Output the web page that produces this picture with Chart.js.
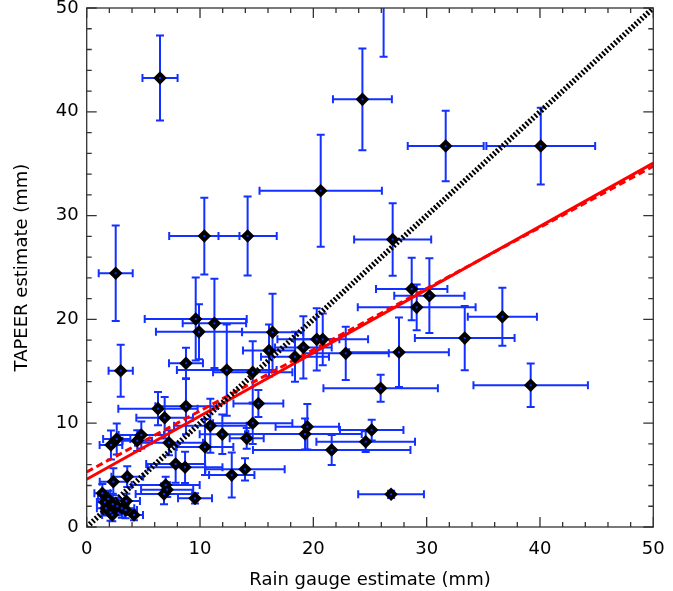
<!DOCTYPE html>
<html><head><meta charset="utf-8">
<script src="https://cdn.jsdelivr.net/npm/chart.js@4.4.0/dist/chart.umd.min.js"></script>
<style>html,body{margin:0;padding:0;background:#fff;}#wrap{width:673px;height:591px;}</style>
</head><body><div id="wrap"><canvas id="c" width="673" height="591"></canvas></div>
<script>
// Rain gauge estimate (mm) vs TAPEER estimate (mm), with uncertainties
const gaugeX    = [6.47,24.33,20.65,10.38,14.2,2.56,27.0,31.68,40.07,28.68,30.24,29.12,36.68,33.36,27.56,25.94,39.18,25.15,24.62,21.62,26.86,26.2,3.0,9.62,11.27,9.91,16.4,16.09,8.76,12.36,14.65,18.38,19.12,20.3,20.83,22.86,6.29,6.88,8.76,15.15,10.91,14.65,11.97,14.12,10.44,19.47,19.27,12.8,13.97,2.65,4.82,2.14,4.46,7.26,7.85,8.68,3.58,2.35,6.97,6.82,7.1,9.56,1.38,1.9,2.3,1.7,2.1,2.7,3.1,2.26,3.44,4.17,3.5,1.6];
const tapeerY   = [43.26,41.2,32.4,28.03,28.03,24.44,27.7,36.7,36.7,22.93,22.28,21.16,20.26,18.2,16.83,13.36,13.65,9.34,8.22,7.42,3.15,53.5,15.06,20.04,19.62,18.8,18.76,17.0,15.77,15.12,14.9,16.4,17.3,18.08,18.08,16.73,11.4,10.53,11.63,11.9,9.76,9.99,8.93,8.54,7.7,9.66,8.96,5.0,5.56,8.48,8.86,7.9,8.31,8.12,6.07,5.75,4.85,4.36,4.05,3.18,3.6,2.76,3.25,2.7,2.2,1.8,1.4,2.0,1.8,1.16,1.64,1.16,2.5,2.4];
const gaugeErr  = [1.55,2.6,5.4,3.1,2.57,1.5,3.4,3.35,4.8,3.15,3.1,5.2,3.05,4.4,4.4,5.05,5.05,2.8,4.35,6.95,2.9,2.0,1.07,4.5,2.8,3.8,2.7,2.3,1.5,4.4,3.5,3.0,2.5,2.0,4.0,3.8,3.5,2.5,2.7,2.2,3.2,3.5,2.0,1.5,2.5,2.8,5.0,2.0,3.5,1.2,2.0,1.0,1.3,3.0,2.6,3.3,1.4,1.2,3.0,2.5,2.3,1.5,0.7,0.9,1.0,0.8,0.8,1.0,1.1,0.9,1.0,0.8,1.2,0.7];
const tapeerErr = [4.1,4.9,5.4,3.7,3.8,4.6,3.5,3.4,3.7,3.0,3.6,2.2,2.8,3.1,3.35,1.3,2.1,1.0,1.0,1.45,0.35,8.2,2.5,4.0,4.3,2.65,3.7,2.5,1.5,4.4,3.0,2.4,3.0,3.0,2.5,2.57,1.6,2.0,2.7,1.3,2.6,2.0,1.9,1.0,2.7,2.2,1.5,2.17,1.07,1.5,1.3,1.4,1.0,1.2,1.8,1.5,1.0,1.3,0.8,1.0,0.7,0.5,0.9,0.8,1.0,0.7,0.8,0.8,0.9,0.6,0.8,0.5,0.7,0.6];
const axisTickLabels = ['0','10','20','30','40','50'];
const lineEndsX  = [0, 50];
const identityY  = [0, 50];
const fitSolidY  = [4.6, 35.05];
const fitDashedY = [5.3, 34.75];

const pts = gaugeX.map((v,i)=>({x:v,y:tapeerY[i]}));
const mk = ys => lineEndsX.map((v,i)=>({x:v,y:ys[i]}));
const BLUE = 'rgb(18,48,255)';

const errorBars = {
  id:'errorBars',
  beforeDatasetsDraw(chart){
    const {ctx, chartArea:a, scales:{x,y}} = chart;
    ctx.save();
    ctx.beginPath(); ctx.rect(a.left,a.top,a.right-a.left,a.bottom-a.top); ctx.clip();
    ctx.strokeStyle = BLUE; ctx.lineWidth = 2; ctx.lineCap='butt';
    const cap = 4;
    for (let i=0;i<gaugeX.length;i++){
      const px = x.getPixelForValue(gaugeX[i]), py = y.getPixelForValue(tapeerY[i]);
      const x0 = x.getPixelForValue(gaugeX[i]-gaugeErr[i]), x1 = x.getPixelForValue(gaugeX[i]+gaugeErr[i]);
      const y0 = y.getPixelForValue(tapeerY[i]-tapeerErr[i]), y1 = y.getPixelForValue(tapeerY[i]+tapeerErr[i]);
      ctx.beginPath();
      ctx.moveTo(x0,py); ctx.lineTo(x1,py);
      ctx.moveTo(x0,py-cap); ctx.lineTo(x0,py+cap);
      ctx.moveTo(x1,py-cap); ctx.lineTo(x1,py+cap);
      ctx.moveTo(px,y0); ctx.lineTo(px,y1);
      ctx.moveTo(px-cap,y0); ctx.lineTo(px+cap,y0);
      ctx.moveTo(px-cap,y1); ctx.lineTo(px+cap,y1);
      ctx.stroke();
    }
    ctx.restore();
  },
  afterDatasetsDraw(chart){
    const {ctx, chartArea:a, scales:{x,y}} = chart;
    ctx.save();
    ctx.beginPath(); ctx.rect(a.left,a.top,a.right-a.left,a.bottom-a.top); ctx.clip();
    ctx.fillStyle = BLUE;
    for (let i=0;i<gaugeX.length;i++){
      const px = x.getPixelForValue(gaugeX[i]), py = y.getPixelForValue(tapeerY[i]);
      ctx.fillRect(px-1,py-1,2,2);
    }
    ctx.restore();
  }
};

const frame = {
  id:'frame',
  afterDraw(chart){
    const {ctx, chartArea:a, scales:{x,y}} = chart;
    ctx.save();
    ctx.strokeStyle = '#333'; ctx.lineWidth = 1.3;
    ctx.strokeRect(a.left,a.top,a.right-a.left,a.bottom-a.top);
    ctx.beginPath();
    for (let v=0; v<=50; v+=2){
      const L = (v%10===0)?10:5;
      const px = x.getPixelForValue(v), py = y.getPixelForValue(v);
      ctx.moveTo(px,a.bottom); ctx.lineTo(px,a.bottom-L);
      ctx.moveTo(px,a.top); ctx.lineTo(px,a.top+L);
      ctx.moveTo(a.left,py); ctx.lineTo(a.left+L,py);
      ctx.moveTo(a.right,py); ctx.lineTo(a.right-L,py);
    }
    ctx.stroke();
    ctx.restore();
  }
};

Chart.defaults.font.family = "'DejaVu Sans', sans-serif";
Chart.defaults.color = '#000';

new Chart(document.getElementById('c'), {
  type:'scatter',
  data:{datasets:[
    {label:'data', data:pts, pointStyle:'rectRot', pointRadius:6.8, backgroundColor:'#000', borderColor:'#000', borderWidth:0, order:0},
    {type:'line', label:'1:1', data:mk(identityY), borderColor:'#000', borderWidth:5.5, borderDash:[2,2], pointRadius:0, order:1},
    {type:'line', label:'fit dashed', data:mk(fitDashedY), borderColor:'#ff0000', borderWidth:3, borderDash:[7,4], pointRadius:0, order:3},
    {type:'line', label:'fit', data:mk(fitSolidY), borderColor:'#ff0000', borderWidth:3, pointRadius:0, order:2}
  ]},
  options:{
    responsive:false, animation:false, devicePixelRatio:1,
    layout:{padding:{left:0,top:8,right:19.7,bottom:0}},
    plugins:{legend:{display:false}, tooltip:{enabled:false}},
    scales:{
      x:{type:'linear', min:0, max:50,
        grid:{display:false, drawTicks:false}, border:{display:false},
        ticks:{stepSize:10, padding:12, font:{size:18}, maxRotation:0, callback:(v)=>axisTickLabels[v/10]},
        title:{display:true, text:'Rain gauge estimate (mm)', font:{size:18}, padding:{top:4,bottom:0}},
        afterFit(s){ s.height = 64; s.paddingLeft = 0; s.paddingRight = 0; }
      },
      y:{type:'linear', min:0, max:50,
        grid:{display:false, drawTicks:false}, border:{display:false},
        ticks:{stepSize:10, padding:8, font:{size:18}, callback:(v)=>axisTickLabels[v/10]},
        title:{display:true, text:'TAPEER estimate (mm)', font:{size:18}, padding:{top:12,bottom:0}},
        afterFit(s){ s.width = 86.7; s.paddingTop = 0; s.paddingBottom = 0; }
      }
    }
  },
  plugins:[errorBars, frame]
});
</script></body></html>
